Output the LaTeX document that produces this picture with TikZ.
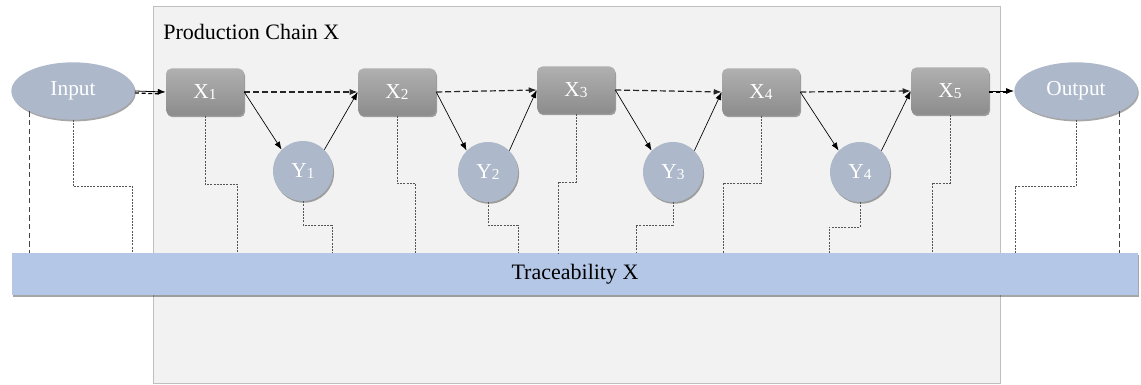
\documentclass[tikz,border=0pt]{standalone}
\usepackage{fontspec}
\setmainfont{Liberation Serif}
\usetikzlibrary{shadows,arrows.meta,shapes.geometric}
\definecolor{panelfill}{HTML}{F2F2F2}
\definecolor{panelline}{HTML}{BFBFBF}
\definecolor{bluegray}{HTML}{ADB9CA}
\definecolor{barblue}{HTML}{B4C7E7}
\definecolor{boxtop}{HTML}{B0B0B0}
\definecolor{boxbot}{HTML}{8C8C8C}
\definecolor{traceline}{HTML}{555555}
\newcommand{\lowsub}[1]{\raisebox{-0.6pt}{\fontsize{11.5}{12}\selectfont #1}}
\tikzset{
  shad/.style={drop shadow={shadow xshift=0.8pt, shadow yshift=-1.3pt, opacity=0.35, fill=black}},
  xbox/.style={rectangle, rounded corners=4pt, top color=boxtop, bottom color=boxbot, draw=none,
    minimum width=58.5pt, minimum height=35.25pt, inner sep=0pt, text=white, font=\fontsize{16}{18}\selectfont, shad},
  ybox/.style={circle, fill=bluegray, draw=none, minimum size=45pt, inner sep=0pt, text=white,
    font=\fontsize{16}{18}\selectfont, shad},
  ebox/.style={ellipse, fill=bluegray, draw=none, minimum width=92.5pt, minimum height=43pt, inner sep=0pt,
    text=white, font=\fontsize{16}{18}\selectfont, shad},
  tip/.style={-{Latex[length=6pt,width=4.5pt]}},
  chain/.style={tip, dashed, dash pattern=on 4.5pt off 2.2pt, line width=0.9pt, black!85},
  thin arrow/.style={tip, line width=0.5pt, black},
  trace/.style={line width=0.6pt, traceline, dash pattern=on 1.5pt off 0.9pt},
  heavytrace/.style={line width=0.9pt, traceline!80!black, dash pattern=on 4pt off 2.5pt},
}
\begin{document}
\begin{tikzpicture}[x=0.75pt,y=-0.75pt]
\useasboundingbox (0,0) rectangle (1141,385);
% panel
\node[fill=panelfill, draw=panelline, line width=0.6pt, anchor=north west, minimum width=635.25pt,
  minimum height=282.75pt, inner sep=0pt] (panel) at (153,6) {};
\node[anchor=base west, font=\fontsize{16.5}{18}\selectfont, inner sep=0pt] (title) at (163,40) {Production Chain X};

% bar
\node[fill=barblue, draw=none, minimum width=844.5pt, minimum height=31.5pt, inner sep=0pt, shad,
  font=\fontsize{16.5}{18}\selectfont] (bar) at (575,274) {Traceability X};

% main nodes
\node[ebox] (in) at (73,91) {Input};
\node[ebox] (out) at (1076,91) {Output};
\node[xbox] (x1) at (205,92) {X\lowsub{1}};
\node[xbox] (x2) at (397,92) {X\lowsub{2}};
\node[xbox] (x3) at (576,90) {X\lowsub{3}};
\node[xbox] (x4) at (761,92) {X\lowsub{4}};
\node[xbox] (x5) at (950,91) {X\lowsub{5}};
\node[ybox] (y1) at (303,171) {Y\lowsub{1}};
\node[ybox] (y2) at (488,172) {Y\lowsub{2}};
\node[ybox] (y3) at (673,172) {Y\lowsub{3}};
\node[ybox] (y4) at (860,172) {Y\lowsub{4}};

% trace lines (drawn before bar overlap is irrelevant; they end at bar top)
\draw[heavytrace] (in.south west) -- (in.south west |- bar.north);
\draw[heavytrace] (out.south east) -- (out.south east |- bar.north);
\draw[trace] (in.south) |- (132,186) -- (bar.north -| 132,0);
\draw[trace] (x1.south) |- (237,184) -- (bar.north -| 237,0);
\draw[trace] (y1.south) |- (332,225) -- (bar.north -| 332,0);
\draw[trace] (x2.south) |- (415,183) -- (bar.north -| 415,0);
\draw[trace] (y2.south) |- (518,225) -- (bar.north -| 518,0);
\draw[trace] (x3.south) |- (558,182) -- (bar.north -| 558,0);
\draw[trace] (y3.south) |- (636,225) -- (bar.north -| 636,0);
\draw[trace] (x4.south) |- (723,183) -- (bar.north -| 723,0);
\draw[trace] (y4.south) |- (829,227) -- (bar.north -| 829,0);
\draw[trace] (x5.south) |- (932,183) -- (bar.north -| 932,0);
\draw[trace] (out.south) |- (1015,186) -- (bar.north -| 1015,0);

% chain arrows
\draw[thin arrow, line width=0.6pt] (in.east) -- (x1.west);
\draw[dashed, dash pattern=on 3pt off 2pt, line width=0.9pt] ([yshift=-1.4pt]in.east) -- ([yshift=-1.4pt,xshift=-5pt]x1.west);
\draw[thin arrow, line width=0.6pt] (x5.east) -- (out.west);
\draw[dashed, dash pattern=on 3pt off 2pt, line width=0.9pt] ([yshift=-1.4pt]x5.east) -- ([yshift=-1.4pt,xshift=-5pt]out.west);

\draw[chain] (x1.east) -- (x2.west);
\draw[chain] (x2.east) -- (x3.west);
\draw[chain] (x3.east) -- (x4.west);
\draw[chain] (x4.east) -- (x5.west);

\draw[thin arrow] (x1.east) -- (y1.135);
\draw[thin arrow] (y1.45) -- (x2.west);
\draw[thin arrow] (x2.east) -- (y2.135);
\draw[thin arrow] (y2.45) -- (x3.west);
\draw[thin arrow] (x3.east) -- (y3.135);
\draw[thin arrow] (y3.45) -- (x4.west);
\draw[thin arrow] (x4.east) -- (y4.135);
\draw[thin arrow] (y4.45) -- (x5.west);
\end{tikzpicture}
\end{document}
